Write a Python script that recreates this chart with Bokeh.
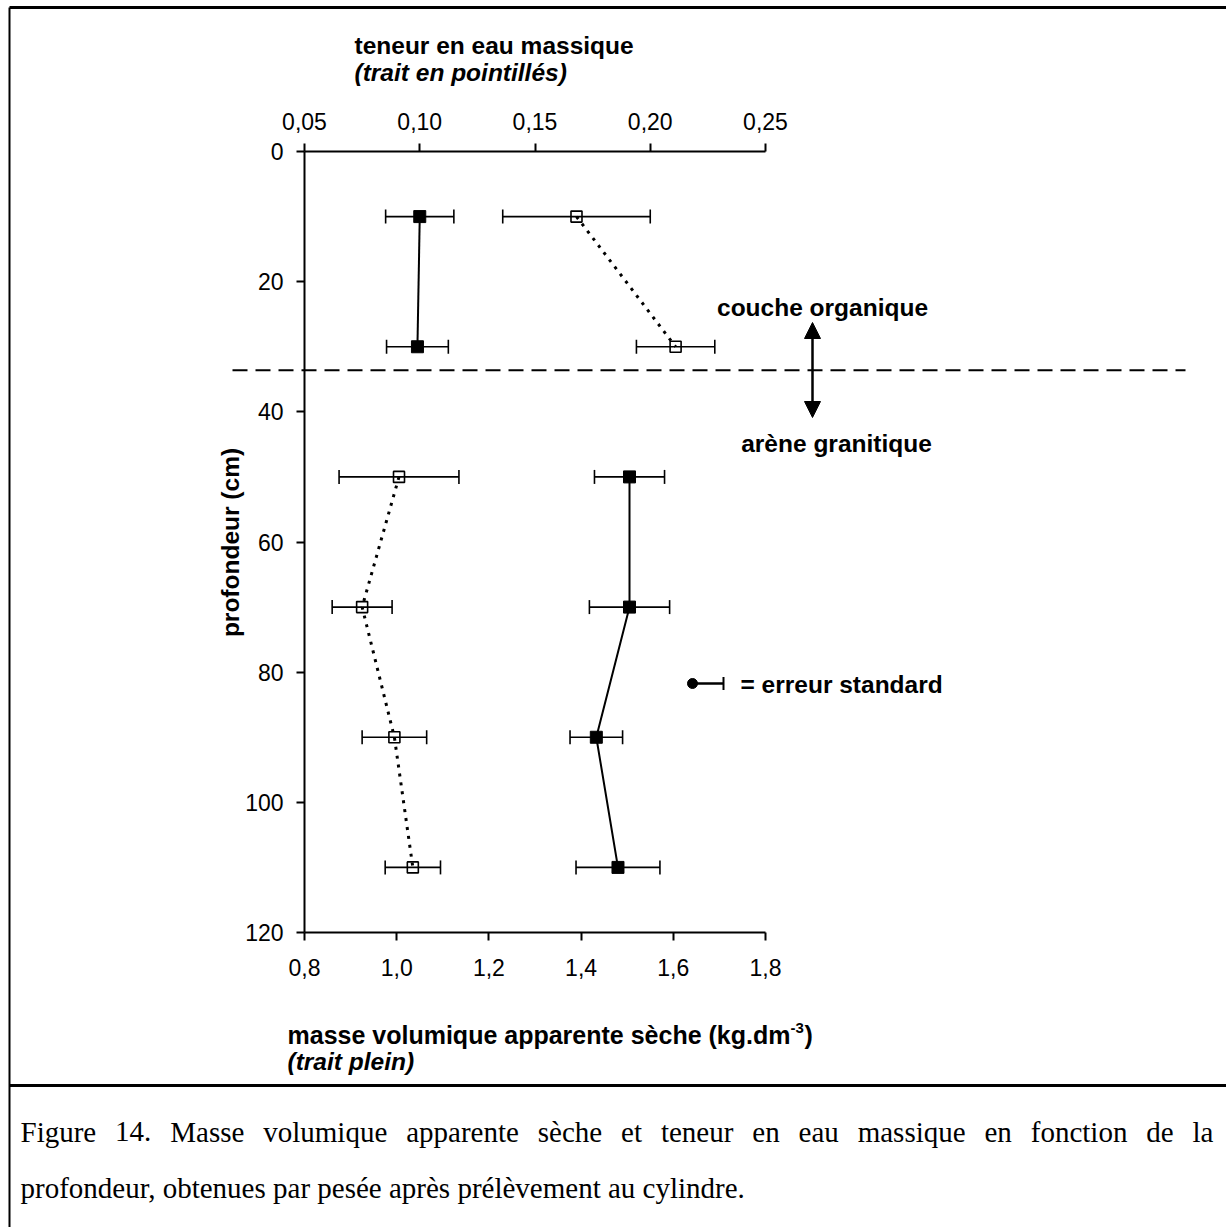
import numpy as np
from bokeh.plotting import figure
from bokeh.models import (Range1d, LinearAxis, FixedTicker, CustomJSTickFormatter,
                          Whisker, TeeHead, ColumnDataSource, Label, Arrow, NormalHead)
from bokeh.embed import file_html
from bokeh.resources import INLINE

# ---------------- data ----------------
depth_cm = [10, 30, 50, 70, 90, 110]
bulk_density = [1.050, 1.045, 1.505, 1.505, 1.433, 1.480]       # kg.dm-3 (trait plein)
bulk_density_se = [0.074, 0.067, 0.076, 0.087, 0.057, 0.091]
water_content = [0.168, 0.211, 0.091, 0.075, 0.089, 0.097]       # teneur en eau massique (pointillés)
water_content_se = [0.032, 0.017, 0.026, 0.013, 0.014, 0.012]
upper_layer = slice(0, 2)   # couche organique
lower_layer = slice(2, 6)   # arène granitique
layer_boundary_cm = 33.6

bulk_ticks = [0.8, 1.0, 1.2, 1.4, 1.6, 1.8]
water_ticks = [0.05, 0.10, 0.15, 0.20, 0.25]
depth_ticks = [0, 20, 40, 60, 80, 100, 120]

caption_line1 = "Figure 14. Masse volumique apparente sèche et teneur en eau massique en fonction de la"
caption_line2 = "profondeur, obtenues par pesée après prélèvement au cylindre."

# ---------------- layout (pixel placement of the axes box) ----------------
W, H = 1226, 1227
AX_L, AX_R, AX_T, AX_B = 304, 765, 151, 932
PX_PER_BULK = (AX_R - AX_L) / (bulk_ticks[-1] - bulk_ticks[0])
PX_PER_WATER = (AX_R - AX_L) / (water_ticks[-1] - water_ticks[0])
PX_PER_CM = (AX_B - AX_T) / (depth_ticks[-1] - depth_ticks[0])


def px2x(px):
    return bulk_ticks[0] + (px - AX_L) / PX_PER_BULK


def py2y(py):
    return depth_ticks[0] + (py - AX_T) / PX_PER_CM


x_range = Range1d(px2x(0), px2x(W))
water_range = Range1d(water_ticks[0] - AX_L / PX_PER_WATER,
                      water_ticks[0] + (W - AX_L) / PX_PER_WATER)
y_range = Range1d(py2y(H), py2y(0))     # depth grows downward

p = figure(width=W, height=H, x_range=x_range, y_range=y_range,
           output_backend="svg", toolbar_location=None, x_axis_location=None,
           y_axis_location=None, min_border=0)
p.extra_x_ranges = {"water": water_range}
p.outline_line_color = None
p.grid.visible = False
p.background_fill_color = "white"
p.border_fill_color = "white"

TICK_FONT = "Liberation Sans"
TICK_SIZE = "23px"


def style_axis(ax, standoff):
    ax.major_tick_out = 8
    ax.major_tick_in = 0
    ax.minor_tick_out = 0
    ax.minor_tick_in = 0
    ax.axis_line_width = 2
    ax.major_tick_line_width = 2
    ax.axis_line_color = "black"
    ax.major_tick_line_color = "black"
    ax.major_label_text_font = TICK_FONT
    ax.major_label_text_font_size = TICK_SIZE
    ax.major_label_text_color = "black"
    ax.major_label_standoff = standoff


ya = LinearAxis(ticker=FixedTicker(ticks=depth_ticks),
                formatter=CustomJSTickFormatter(code="return tick.toFixed(0)"),
                bounds=(depth_ticks[0], depth_ticks[-1]), fixed_location=bulk_ticks[0])
style_axis(ya, 13)
p.add_layout(ya, "left")

xb = LinearAxis(ticker=FixedTicker(ticks=bulk_ticks),
                formatter=CustomJSTickFormatter(code="return tick.toFixed(1).replace('.', ',')"),
                bounds=(bulk_ticks[0], bulk_ticks[-1]), fixed_location=depth_ticks[-1])
style_axis(xb, 18)
p.add_layout(xb, "below")

xt = LinearAxis(x_range_name="water", ticker=FixedTicker(ticks=water_ticks),
                formatter=CustomJSTickFormatter(code="return tick.toFixed(2).replace('.', ',')"),
                bounds=(water_ticks[0], water_ticks[-1]), fixed_location=depth_ticks[0])
style_axis(xt, 14)
p.add_layout(xt, "above")

# ---------------- data marks ----------------
d = np.array(depth_cm, dtype=float)
b = np.array(bulk_density)
bse = np.array(bulk_density_se)
w = np.array(water_content)
wse = np.array(water_content_se)

src = ColumnDataSource(dict(depth=d, bulk=b, bulk_lo=b - bse, bulk_hi=b + bse,
                            water=w, water_lo=w - wse, water_hi=w + wse))

for lo, hi, rng in (("bulk_lo", "bulk_hi", "default"), ("water_lo", "water_hi", "water")):
    wh = Whisker(source=src, base="depth", lower=lo, upper=hi, dimension="width",
                 x_range_name=rng, line_width=1.6, line_color="black",
                 upper_head=TeeHead(size=14, line_width=1.6, line_color="black"),
                 lower_head=TeeHead(size=14, line_width=1.6, line_color="black"))
    p.add_layout(wh)

for part in (upper_layer, lower_layer):
    p.line(b[part], d[part], line_color="black", line_width=2)
    p.line(w[part], d[part], x_range_name="water", line_color="black",
           line_width=3, line_dash="3 6")

p.scatter("bulk", "depth", source=src, marker="square", size=12,
          fill_color="black", line_color="black")
p.scatter("water", "depth", source=src, x_range_name="water", marker="square", size=11,
          fill_color=None, line_color="black", line_width=1.6)

# layer boundary and double arrow
p.add_layout(Arrow(start=None, end=None, x_start=px2x(232), x_end=px2x(1185),
                   y_start=layer_boundary_cm, y_end=layer_boundary_cm,
                   line_width=2, line_dash="15 8", line_color="black"))
p.add_layout(Arrow(start=NormalHead(size=16, fill_color="black", line_color="black"),
                   end=NormalHead(size=16, fill_color="black", line_color="black"),
                   x_start=px2x(812), x_end=px2x(812), y_start=py2y(322), y_end=py2y(417),
                   line_width=2.5, line_color="black"))

# legend key for the standard error
p.scatter([px2x(692)], [py2y(683)], marker="circle", size=10,
          fill_color="black", line_color="black")
p.add_layout(Arrow(start=None, end=TeeHead(size=13, line_width=2, line_color="black"),
                   x_start=px2x(692), x_end=px2x(723), y_start=py2y(683), y_end=py2y(683),
                   line_width=2.5, line_color="black"))

BOLD = "24.5px"


def add_text(text, px, py, size=BOLD, style="bold", align="left", font="Liberation Sans",
             angle=0.0):
    p.add_layout(Label(x=px2x(px), y=py2y(py), text=text, text_font=font,
                       text_font_size=size, text_font_style=style, text_align=align,
                       text_baseline="middle", text_color="black", angle=angle))


add_text("teneur en eau massique", 354, 45)
add_text("(trait en pointillés)", 354, 72, style="bold italic")
add_text("profondeur (cm)", 230, 542, align="center", angle=np.pi / 2)
add_text("couche organique", 822, 307, align="center")
add_text("arène granitique", 836, 443, align="center")
add_text("= erreur standard", 740, 684)
add_text("masse volumique apparente sèche (kg.dm", 287, 1034, size="25px")
add_text("-3", 790, 1027, size="15px")
add_text(")", 804, 1034, size="25px")
add_text("(trait plein)", 287, 1061, style="bold italic")

# ---------------- caption (first line justified like the original) ----------------
CAP_PX = 29
TIMES_W = {" ": 250, ",": 250, ".": 250, "F": 556, "M": 889,
           "a": 444, "b": 500, "c": 444, "d": 500, "e": 444, "è": 444, "é": 444, "f": 333,
           "g": 500, "h": 500, "i": 278, "l": 278, "m": 778, "n": 500, "o": 500, "p": 500,
           "q": 500, "r": 333, "s": 389, "t": 278, "u": 500, "v": 500, "y": 500}


def text_width(s):
    return sum(TIMES_W.get(c, 500) for c in s) * CAP_PX / 1000.0


CAP_L, CAP_R = 20, 1213
words = caption_line1.split(" ")
gap = (CAP_R - CAP_L - sum(text_width(t) for t in words)) / (len(words) - 1)
cx = CAP_L
for word in words:
    add_text(word, cx, 1131, size=f"{CAP_PX}px", style="normal", font="Liberation Serif")
    cx += text_width(word) + gap
add_text(caption_line2, CAP_L, 1187, size=f"{CAP_PX}px", style="normal",
         font="Liberation Serif")

# outer frame of the figure
for (x0, y0, x1, y1, lw) in ((9, 7, 1226, 7, 3), (9, 7, 9, 1227, 2),
                             (9, 1085, 1226, 1085, 3)):
    p.add_layout(Arrow(start=None, end=None, x_start=px2x(x0), x_end=px2x(x1),
                       y_start=py2y(y0), y_end=py2y(y1), line_width=lw, line_color="black"))

open("out.html", "w").write(file_html(p, INLINE))
